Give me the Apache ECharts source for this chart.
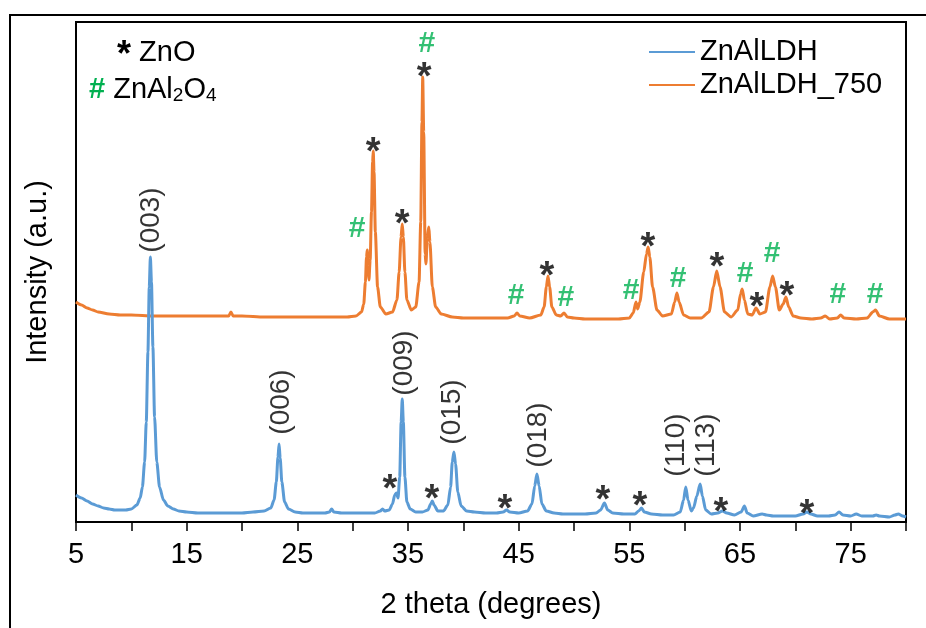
<!DOCTYPE html>
<html>
<head>
<meta charset="utf-8">
<script src="https://cdn.jsdelivr.net/npm/echarts@6/dist/echarts.min.js"></script>
<style>
html,body{margin:0;padding:0;background:#fff;}
#c{width:926px;height:628px;}
</style>
</head>
<body>
<div id="c"></div>
<script>
// ---- Data (2theta in degrees, intensity in arbitrary units) ----
var seriesNames = ['ZnAlLDH', 'ZnAlLDH_750'];

var ldh = [
[5.0,27],[5.5,24],[6.0,21],[6.5,18],[7.0,16],[7.5,14],[8.0,13],[8.5,12],[9.0,12],[9.5,12],
[10.0,13],[10.5,17],[10.8,24],[11.0,35],[11.2,60],[11.35,100],[11.5,170],[11.62,235],[11.72,265],
[11.82,240],[11.95,175],[12.1,105],[12.3,60],[12.55,35],[12.9,22],[13.3,16],[13.8,13],[14.3,11],
[15,10],[16,9],[17,9],
[18,9],[19,9],[20,9],[21,10],[22,11],[22.6,14],[22.9,22],[23.1,40],[23.25,65],[23.35,78],
[23.45,64],[23.6,40],[23.85,20],[24.2,13],[24.8,10],[25.5,9],[26.5,9],[27.5,9],[27.9,10],
[28.1,13],[28.3,10],[29,9],[30,9],[31,9],[32,9],[32.5,11],[32.7,13],[32.9,11],[33.3,12],
[33.6,18],[33.8,27],[33.95,29],[34.1,24],[34.25,45],[34.38,100],[34.48,123],[34.58,100],
[34.72,45],[34.9,20],[35.2,13],[35.7,10],[36.3,10],[36.8,12],[37.05,18],[37.2,21],[37.35,17],
[37.7,11],[38.2,11],[38.6,17],[38.85,35],[39.0,60],[39.15,70],[39.3,58],[39.5,30],[39.8,16],
[40.3,11],[41,10],[42,9],[43,9],[43.6,10],[43.9,12],[44.2,10],[45,9],[45.8,11],[46.2,18],
[46.45,36],[46.65,48],[46.85,36],[47.1,18],[47.5,11],[48.2,9],[49,8],[50,8],[51,8],[52,9],
[52.4,12],[52.75,19],[53.05,12],[53.5,9],[54.5,8],[55.5,8],[55.85,11],[56.1,14],[56.35,10],
[57,8],[58,7],[59,7],[59.6,10],[59.9,22],[60.1,35],[60.3,22],[60.6,11],[60.8,14],[61.1,26],
[61.4,38],[61.6,26],[61.9,12],[62.4,8],[63.0,9],[63.4,11],[63.8,9],[64.5,7],[65.1,10],
[65.4,16],[65.65,9],[66.2,6],[67.0,8],[67.4,7],[68,6],[69,6],[70,6],[70.7,8],[71.05,10],
[71.4,8],[72,6],[73,6],[73.6,7],[73.95,10],[74.3,7],[75,6],[75.5,8],[76,6],[77.0,6],[77.3,7],
[77.6,6],[78.5,5],[79.0,7],[79.3,8],[79.7,6],[80,5]
];

var ldh750 = [
[5.0,220],[5.5,217],[6.0,214],[6.5,212],[7.0,210],[8.0,208],[9,207],[10,207],[12,206],[14,206],
[16,206],[18,206],[18.8,206],[19.0,210],[19.2,206],[20,206],[22,205],[24,205],[26,205],[28,205],
[29.5,205],[30.3,206],[30.8,210],[31.0,218],[31.15,240],[31.25,265],[31.32,272],[31.4,255],
[31.47,242],[31.58,262],[31.7,310],[31.8,360],[31.86,371],[31.93,350],[32.05,290],[32.25,235],
[32.5,215],[33.0,208],[33.6,210],[34.0,222],[34.2,250],[34.37,285],[34.48,298],[34.58,285],
[34.72,250],[34.9,222],[35.3,212],[35.7,215],[36.0,240],[36.15,300],[36.26,400],[36.33,445],
[36.42,390],[36.55,268],[36.62,258],[36.75,285],[36.88,295],[36.98,280],[37.2,235],[37.5,215],
[38,208],[39,205],[40,204],[42,204],[44,204],[44.6,206],[44.85,209],[45.1,206],[46,204],
[47.0,207],[47.3,215],[47.5,235],[47.65,246],[47.8,235],[48.0,215],[48.4,207],[48.8,206],
[49.1,209],[49.4,205],[50,204],[51,203],[53,203],[54,203],[55,204],[55.35,209],[55.6,220],
[55.75,213],[55.95,220],[56.3,250],[56.55,268],[56.7,275],[56.85,265],[57.1,235],[57.5,212],
[58,206],[58.8,208],[59.1,220],[59.3,229],[59.5,220],[59.9,207],[60.5,204],[61.5,204],
[62.2,210],[62.6,235],[62.9,251],[63.2,235],[63.6,210],[64.2,205],[64.8,212],[65.05,228],
[65.2,233],[65.4,222],[65.7,208],[66.1,207],[66.45,214],[66.8,208],[67.3,210],[67.7,235],
[67.95,246],[68.2,235],[68.55,212],[68.9,218],[69.15,225],[69.4,215],[69.8,206],[70.5,204],
[71.5,203],[72.3,204],[72.7,206],[73.1,203],[73.8,204],[74.1,207],[74.4,204],[75.5,203],
[76.5,204],[77.0,210],[77.25,212],[77.6,206],[78.5,203],[80,203]
];

// phase markers: ZnO (*) and ZnAl2O4 (#)
var znoMarks = [
[31.84,379],[34.46,307],[36.45,454],[47.56,255],[56.68,284],[62.92,264],[66.53,224],[69.24,235],
[33.37,42],[37.17,32],[43.76,22],[52.62,31],[55.96,25],[63.28,19],[71.05,17]
];
var spinelMarks = [
[30.39,294],[36.7,479],[44.76,227],[49.27,225],[55.15,232],[59.4,244],[65.45,249],[67.89,269],
[73.85,228],[77.2,228]
];
// LDH reflections
var hklLabels = [
[11.78,302,'(003)'],[23.52,120,'(006)'],[34.64,159,'(009)'],[38.98,110,'(015)'],
[46.75,87,'(018)'],[59.22,77,'(110)'],[61.93,77,'(113)']
];
var xTickLabels = [5, 15, 25, 35, 45, 55, 65, 75];

// ---- Chart ----
var FONT = '"Liberation Sans", Arial, sans-serif';
var chart = echarts.init(document.getElementById('c'), null, {renderer: 'canvas'});

var option = {
  animation: false,
  backgroundColor: '#ffffff',
  grid: {left: 76, top: 22, right: 20, bottom: 106, show: true, borderColor: '#000', borderWidth: 2},
  legend: {
    data: seriesNames,
    orient: 'vertical',
    left: 649, top: 37, padding: 0,
    icon: 'rect',
    itemWidth: 46, itemHeight: 2, itemGap: 3,
    textStyle: {fontFamily: FONT, fontSize: 29, color: '#000', lineHeight: 30}
  },
  xAxis: {
    type: 'value', min: 5, max: 80, interval: 5,
    name: '2 theta (degrees)', nameLocation: 'middle', nameGap: 68,
    nameTextStyle: {fontFamily: FONT, fontSize: 29, color: '#000'},
    axisLine: {lineStyle: {color: '#000', width: 2}},
    axisTick: {show: true, inside: false, length: 9, lineStyle: {color: '#000', width: 1.5}},
    axisLabel: {
      fontFamily: FONT, fontSize: 29, color: '#000', margin: 18,
      formatter: function (v) { return xTickLabels.indexOf(v) >= 0 ? String(v) : ''; }
    },
    splitLine: {show: false}
  },
  yAxis: {
    type: 'value', min: 0, max: 500,
    name: 'Intensity (a.u.)', nameLocation: 'middle', nameGap: 24,
    nameTextStyle: {fontFamily: FONT, fontSize: 29, color: '#000'},
    axisLine: {show: false}, axisTick: {show: false}, axisLabel: {show: false},
    splitLine: {show: false}
  },
  series: [
    {
      name: seriesNames[0], type: 'line', data: ldh, symbol: 'none',
      smooth: 0.25, smoothMonotone: 'x',
      lineStyle: {color: '#5B9BD5', width: 3}, itemStyle: {color: '#5B9BD5'}, z: 3
    },
    {
      name: seriesNames[1], type: 'line', data: ldh750, symbol: 'none',
      smooth: 0.25, smoothMonotone: 'x',
      lineStyle: {color: '#ED7D31', width: 3}, itemStyle: {color: '#ED7D31'}, z: 2
    },
    {
      name: 'zno', type: 'scatter', data: znoMarks, symbolSize: 1, silent: true,
      itemStyle: {color: 'rgba(0,0,0,0)'}, z: 5,
      label: {show: true, position: 'inside', formatter: '*', offset: [0, 11],
        fontFamily: FONT, fontSize: 38, fontWeight: 'bold', color: '#000'}
    },
    {
      name: 'spinel', type: 'scatter', data: spinelMarks, symbolSize: 1, silent: true,
      itemStyle: {color: 'rgba(0,0,0,0)'}, z: 5,
      label: {show: true, position: 'inside', formatter: '#', offset: [0, 1],
        fontFamily: FONT, fontSize: 30, fontWeight: 'bold', color: '#00B050'}
    },
    {
      name: 'hkl', type: 'scatter', data: hklLabels, symbolSize: 1, silent: true,
      itemStyle: {color: 'rgba(0,0,0,0)'}, z: 5,
      label: {show: true, position: 'inside', rotate: 90,
        formatter: function (p) { return p.data[2]; },
        fontFamily: FONT, fontSize: 28, color: '#000'}
    }
  ],
  graphic: [
    {type: 'polyline', shape: {points: [[10, 628], [10, 15], [926, 15]]}, style: {stroke: '#000', lineWidth: 2, fill: null}, silent: true},
    {type: 'text', left: 117, top: 38, style: {
      text: '{a|*}{t| ZnO}',
      rich: {
        a: {fontFamily: FONT, fontSize: 36, fontWeight: 'bold', fill: '#000', color: '#000', padding: [8, 0, 0, 0]},
        t: {fontFamily: FONT, fontSize: 29, fill: '#000', color: '#000'}
      }
    }},
    {type: 'text', left: 89, top: 75, style: {
      text: '{g|# }{t|ZnAl}{s|2}{t|O}{s|4}',
      rich: {
        g: {fontFamily: FONT, fontSize: 29, fontWeight: 'bold', fill: '#00B050', color: '#00B050'},
        t: {fontFamily: FONT, fontSize: 29, fill: '#000', color: '#000'},
        s: {fontFamily: FONT, fontSize: 19, fill: '#000', color: '#000', padding: [12, 0, 0, 0]}
      }
    }}
  ]
};
chart.setOption(option);
</script>
</body>
</html>
